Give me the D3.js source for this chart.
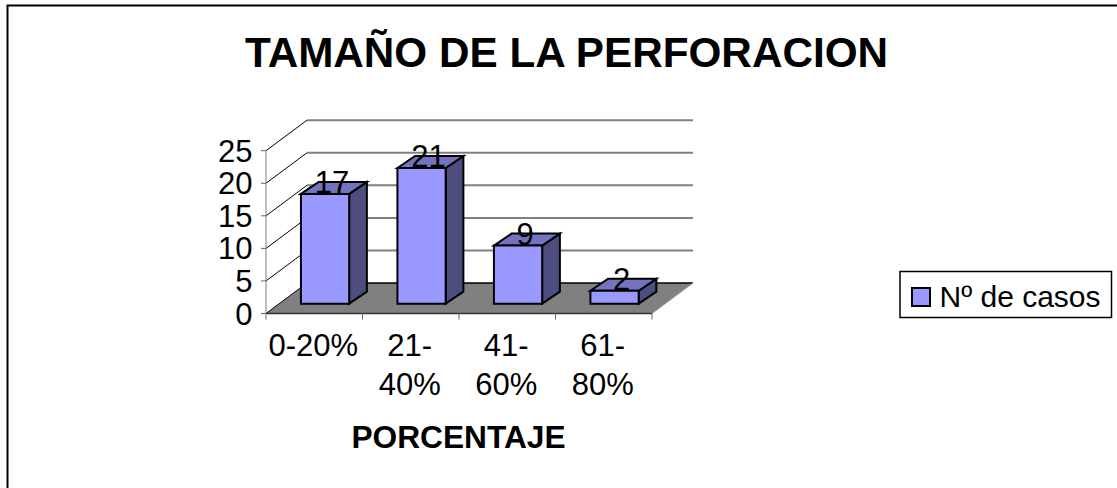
<!DOCTYPE html>
<html><head><meta charset="utf-8">
<script src="https://cdn.jsdelivr.net/npm/d3@7"></script>
<style>html,body{margin:0;padding:0;background:#fff}svg{display:block}text{font-family:"Liberation Sans",Arial,sans-serif;fill:#000}</style>
</head><body><svg id="c" width="1117" height="488"></svg>
<script>
const categories = [["0-20%"],["21-","40%"],["41-","60%"],["61-","80%"]];
const values = [17,21,9,2];
const yTicks = [0,5,10,15,20,25];
const titleText = "TAMAÑO DE LA PERFORACION";
const xTitle = "PORCENTAJE";
const legendText = "Nº de casos";
const colors = {front:"#9999ff",side:"#4d4d80",top:"#7373bf",floor:"#808080",grid:"#808080"};

const svg = d3.select("#c");
const W=1117,H=488;
const depth={dx:41,dy:-30.5}, barDepth={dx:17.7,dy:-12};
const barOff={dx:10.8,dy:-9.8};
const keys=categories.map((d,i)=>i);
const x=d3.scaleBand().domain(keys).range([266,652]).paddingInner(0.5).paddingOuter(0.25);
const y=d3.scaleLinear().domain([0,25]).range([313.5,150.7]);
const h=d3.scaleLinear().domain([0,25]).range([0,161.5]);
const poly=(pts,fill,stroke,sw)=>svg.append("polygon").attr("points",pts.map(p=>p.join(",")).join(" ")).attr("fill",fill).attr("stroke",stroke||"none").attr("stroke-width",sw||0).attr("stroke-linejoin","miter");
const line=(a,b,c,w)=>svg.append("line").attr("x1",a[0]).attr("y1",a[1]).attr("x2",b[0]).attr("y2",b[1]).attr("stroke",c).attr("stroke-width",w);

// frame
svg.append("path").attr("d",`M7.5,${H} V5.5 H${W}`).attr("fill","none").attr("stroke","#000").attr("stroke-width",2);

const x0=x.range()[0], x1=x.range()[1];
// floor
poly([[x0,y(0)],[x1,y(0)],[x1+depth.dx,y(0)+depth.dy],[x0+depth.dx,y(0)+depth.dy]],colors.floor);
line([x0+depth.dx,y(0)+depth.dy],[x1+depth.dx,y(0)+depth.dy],"#000",1.5);
line([x0,y(0)],[x1,y(0)],"#333",1.5);
line([x1,y(0)],[x1+depth.dx,y(0)+depth.dy],"#999",1);
// gridlines
yTicks.filter(t=>t>0).forEach(t=>{
  line([x0,y(t)],[x0+depth.dx,y(t)+depth.dy],"#000",1);
  line([x0+depth.dx,y(t)+depth.dy],[x1+depth.dx,y(t)+depth.dy],colors.grid,2);
});
line([x0,y(0)],[x0+depth.dx,y(0)+depth.dy],"#000",1);
// axis lines
line([x0,y(0)],[x0,y(25)],"#808080",1);
yTicks.forEach(t=>line([x0-5,y(t)],[x0,y(t)],"#666",1));
d3.range(5).forEach(i=>line([x0+i*x.step(),y(0)],[x0+i*x.step(),y(0)+6],"#666",1));

// bars
const bw=x.bandwidth();
values.forEach((v,i)=>{
  const l=x(i)+barOff.dx, r=l+bw, b=y(0)+barOff.dy, t=b-h(v);
  const dx=barDepth.dx, dy=barDepth.dy;
  poly([[r,t],[r+dx,t+dy],[r+dx,b+dy],[r,b]],colors.side,"#000",2);
  poly([[l,t],[l+dx,t+dy],[r+dx,t+dy],[r,t]],colors.top,"#000",2);
  poly([[l,t],[r,t],[r,b],[l,b]],colors.front,"#000",2);
});
// value labels
values.forEach((v,i)=>{
  const l=x(i)+barOff.dx, t=y(0)+barOff.dy-h(v);
  svg.append("text").attr("x",l+bw/2+7).attr("y",t-1).attr("text-anchor","middle").attr("font-size",31).text(v);
});
// y tick labels
yTicks.forEach(t=>svg.append("text").attr("x",252.5).attr("y",y(t)+11).attr("text-anchor","end").attr("font-size",31).text(t));
// x labels
categories.forEach((c,i)=>c.forEach((s,j)=>{
  svg.append("text").attr("x",x(i)+bw/2-1).attr("y",356+j*39).attr("text-anchor","middle").attr("font-size",31).text(s);
}));
svg.append("text").attr("x",458.5).attr("y",448).attr("text-anchor","middle").attr("font-size",31.7).attr("font-weight","bold").text(xTitle);
svg.append("text").attr("x",245).attr("y",67).attr("font-size",43.3).attr("font-weight","bold").attr("textLength",643).attr("lengthAdjust","spacingAndGlyphs").text(titleText);
// legend
svg.append("rect").attr("x",900).attr("y",271.5).attr("width",211.5).attr("height",46).attr("fill","#fff").attr("stroke","#000").attr("stroke-width",1.5);
svg.append("rect").attr("x",912).attr("y",288).attr("width",18).attr("height",18).attr("fill",colors.front).attr("stroke","#000").attr("stroke-width",2);
svg.append("text").attr("x",939.5).attr("y",307).attr("font-size",30).text(legendText);
</script></body></html>
